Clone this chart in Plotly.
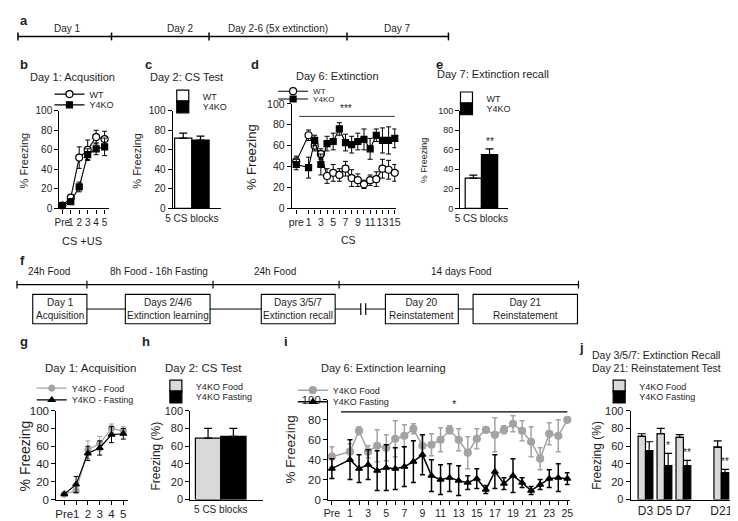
import plotly.graph_objects as go

W, H = 738, 521
FONT = "Liberation Sans, Arial, Helvetica, sans-serif"
INK = "#1e1e1e"
GRAY = "#a3a3a3"
LIGHT = "#d9d9d9"


def fx(p):
    return p / W


def fy(p):
    return 1 - p / H


# ---------------- data ----------------
a_phases = ["Day 1", "Day 2", "Day 2-6 (5x extinction)", "Day 7"]
f_phases = ["24h Food", "8h Food - 16h Fasting", "24h Food", "14 days Food"]
f_steps = ["Day 1<br>Acquisition", "Days 2/4/6<br>Extinction learning",
           "Days 3/5/7<br>Extinction recall", "Day 20<br>Reinstatement",
           "Day 21<br>Reinstatement"]

acq_ticks = ["Pre", "1", "2", "3", "4", "5"]
b_wt = [3, 11, 52, 60, 73, 71]
b_wt_err = [1, 3, 11, 10, 7, 8]
b_ko = [3, 7, 22, 55, 61, 63]
b_ko_err = [1, 2, 5, 6, 6, 9]

block_label = ["5 CS blocks"]
c_wt = [72]
c_wt_err = [5]
c_ko = [70]
c_ko_err = [4]

d_ticks = ["pre", "1", "2", "3", "4", "5", "6", "7", "8", "9", "10", "11", "12", "13", "14", "15"]
d_wt = [45, 70, 60, 52, 31, 34, 32, 38, 29, 27, 23, 27, 28, 38, 37, 34]
d_wt_err = [5, 5, 5, 5, 7, 8, 6, 7, 8, 6, 4, 5, 7, 9, 9, 8]
d_ko = [42, 39, 65, 42, 62, 64, 76, 63, 61, 64, 66, 57, 70, 65, 65, 67]
d_ko_err = [5, 10, 5, 10, 7, 8, 6, 8, 8, 8, 10, 10, 6, 12, 13, 9]

e_wt = [31]
e_wt_err = [3]
e_ko = [55]
e_ko_err = [6]
e_sig = "**"

g_food = [6, 10, 56, 63, 80, 77]
g_food_err = [1, 3, 10, 8, 5, 5]
g_fast = [6, 17, 52, 58, 73, 74]
g_fast_err = [1, 9, 8, 8, 9, 6]

h_food = [69]
h_food_err = [11]
h_fast = [71]
h_fast_err = [9]

i_ticks = ["Pre"] + [str(k) for k in range(1, 26)]
i_food = [43, 48, 69, 48, 54, 52, 61, 64, 71, 54, 55, 60, 70, 60, 47, 61, 70, 65, 70, 76, 69, 58, 41, 66, 64, 80]
i_food_err = [10, 8, 4, 6, 16, 13, 18, 11, 5, 11, 11, 12, 4, 11, 16, 10, 3, 17, 4, 8, 10, 15, 11, 11, 16, 0]
i_fast = [31, 40, 31, 35, 29, 32, 31, 33, 38, 45, 24, 20, 22, 19, 17, 21, 10, 28, 16, 24, 17, 9, 15, 21, 22, 21]
i_fast_err = [10, 20, 14, 15, 20, 23, 21, 20, 21, 20, 16, 15, 14, 15, 7, 10, 4, 17, 6, 17, 5, 4, 5, 9, 14, 6]
i_sig = "*"

j_days = ["D3", "D5", "D7", "D21"]
j_food = [71, 74, 70, 59]
j_food_err = [3, 6, 3, 7]
j_fast = [55, 38, 38, 30]
j_fast_err = [10, 14, 6, 4]
j_sig = ["", "*", "**", "**"]

# ---------------- helpers ----------------
BW = 0.39  # width of one bar in a pair


def series_x(ticks):
    # "pre" sits one extra step before trial 1
    return [-1 if k == 0 else k for k in range(len(ticks))]


def odd_labels(ticks):
    return [t if (k == 0 or int(t) % 2 == 1) else "" for k, t in enumerate(ticks)]


def line_trace(x, y, err, name, xa, ya, lg, color, symbol, fill, msize, lw, ew=1.0):
    return go.Scatter(
        x=x, y=y, name=name, xaxis=xa, yaxis=ya, legend=lg, mode="lines+markers",
        line=dict(color=color, width=lw),
        marker=dict(symbol=symbol, size=msize, color=fill, line=dict(color=color, width=1.2)),
        error_y=dict(type="data", array=err, visible=True, color=color, thickness=ew, width=2.5),
        cliponaxis=False,
    )


def bar_trace(x, y, err, name, xa, ya, lg, fill, offset):
    return go.Bar(
        x=x, y=y, name=name, xaxis=xa, yaxis=ya, legend=lg, width=BW, offset=offset,
        marker=dict(color=fill, line=dict(color="black", width=1.2)),
        error_y=dict(type="data", array=err, arrayminus=[0] * len(err), symmetric=False,
                     visible=True, color="black", thickness=1.2, width=4),
        cliponaxis=False,
    )


fig = go.Figure()

acq_x = list(range(len(acq_ticks)))
# b
fig.add_trace(line_trace(acq_x, b_wt, b_wt_err, "WT", "x", "y", "legend",
                         "black", "circle", "white", 7, 1.1))
fig.add_trace(line_trace(acq_x, b_ko, b_ko_err, "Y4KO", "x", "y", "legend2",
                         "black", "square", "black", 6, 1.1))
# c
fig.add_trace(bar_trace([0], c_wt, c_wt_err, "WT", "x2", "y2", "legend3", "white", -BW))
fig.add_trace(bar_trace([0], c_ko, c_ko_err, "Y4KO", "x2", "y2", "legend4", "black", 0))
# d
dx = series_x(d_ticks)
fig.add_trace(line_trace(dx, d_wt, d_wt_err, "WT", "x3", "y3", "legend5",
                         "black", "circle", "white", 7, 1.1))
fig.add_trace(line_trace(dx, d_ko, d_ko_err, "Y4KO", "x3", "y3", "legend6",
                         "black", "square", "black", 6, 1.1))
# e
fig.add_trace(bar_trace([0], e_wt, e_wt_err, "WT", "x4", "y4", "legend7", "white", -BW))
fig.add_trace(bar_trace([0], e_ko, e_ko_err, "Y4KO", "x4", "y4", "legend8", "black", 0))
# g
fig.add_trace(line_trace(acq_x, g_food, g_food_err, "Y4KO - Food", "x5", "y5",
                         "legend9", GRAY, "circle", GRAY, 6, 1.2))
fig.add_trace(line_trace(acq_x, g_fast, g_fast_err, "Y4KO - Fasting", "x5", "y5",
                         "legend10", "black", "triangle-up", "black", 6, 1.2))
# h
fig.add_trace(bar_trace([0], h_food, h_food_err, "Y4KO Food", "x6", "y6", "legend11", LIGHT, -BW))
fig.add_trace(bar_trace([0], h_fast, h_fast_err, "Y4KO Fasting", "x6", "y6", "legend12", "black", 0))
# i
ix = series_x(i_ticks)
fig.add_trace(line_trace(ix, i_food, i_food_err, "Y4KO Food", "x7", "y7", "legend13",
                         GRAY, "circle", GRAY, 7, 1.5, ew=1.5))
fig.add_trace(line_trace(ix, i_fast, i_fast_err, "Y4KO Fasting", "x7", "y7", "legend14",
                         "black", "triangle-up", "black", 6, 1.5, ew=1.5))
# j  (one empty slot before the last day)
jx = [k if k < 3 else k + 1 for k in range(len(j_days))]
fig.add_trace(bar_trace(jx, j_food, j_food_err, "Y4KO Food", "x8", "y8", "legend15", LIGHT, -BW))
fig.add_trace(bar_trace(jx, j_fast, j_fast_err, "Y4KO Fasting", "x8", "y8", "legend16", "black", 0))


# ---------------- axes ----------------
def xax(px0, px1, anchor, rng, tickvals, ticktext, size, ticks="outside"):
    return dict(domain=[fx(px0), fx(px1)], anchor=anchor, range=rng, showline=True,
                linecolor="black", linewidth=1.2, ticks=ticks, ticklen=4, tickwidth=1.2,
                tickcolor="black", showgrid=False, zeroline=False, tickmode="array",
                tickvals=tickvals, ticktext=ticktext, tickangle=0,
                tickfont=dict(size=size, color=INK, family=FONT), fixedrange=True)


def yax(top, bottom, anchor, size):
    return dict(domain=[fy(bottom), fy(top)], anchor=anchor, range=[0, 100], showline=True,
                linecolor="black", linewidth=1.2, ticks="outside", ticklen=4, tickwidth=1.2,
                tickcolor="black", showgrid=False, zeroline=False, tickmode="array",
                tickvals=[0, 20, 40, 60, 80, 100], tickangle=0,
                tickfont=dict(size=size, color=INK, family=FONT), fixedrange=True)


layout_axes = dict(
    xaxis=xax(45, 95, "y", [-0.35, 5.47], acq_x, acq_ticks, 10),
    yaxis=yax(99, 199, "x", 10),
    xaxis2=xax(160, 209, "y2", [-0.435, 0.656], [0], block_label, 10, ticks=""),
    yaxis2=yax(99, 199, "x2", 10),
    xaxis3=xax(281, 387, "y3", [-1.72, 15.24], dx, odd_labels(d_ticks), 10.5),
    yaxis3=yax(92, 199, "x3", 10.5),
    xaxis4=xax(452, 500, "y4", [-0.508, 0.627], [0], block_label, 10, ticks=""),
    yaxis4=yax(99, 199, "x4", 9),
    xaxis5=xax(42, 115, "y5", [-0.67, 5.42], acq_x, acq_ticks, 11.5),
    yaxis5=yax(406, 497, "x5", 11.5),
    xaxis6=xax(178, 252, "y6", [-0.468, 0.655], [0], block_label, 10, ticks=""),
    yaxis6=yax(406, 497, "x6", 11),
    xaxis7=xax(318, 563, "y7", [-1.4, 25.25], ix, odd_labels(i_ticks), 10.5),
    yaxis7=yax(395, 497, "x7", 11.5),
    xaxis8=xax(625, 728, "y8", [-0.78, 4.57], jx, j_days, 12, ticks=""),
    yaxis8=yax(406, 497, "x8", 11),
)

# ---------------- legends (symbol centre = left+20, text = left+40) ----------------
legend_specs = [
    ("legend", 35, 82, 9), ("legend2", 35, 93, 9),
    ("legend3", 150, 84, 9), ("legend4", 150, 95, 9),
    ("legend5", 262, 79, 8), ("legend6", 262, 87, 8),
    ("legend7", 438, 86, 9), ("legend8", 438, 97, 9),
    ("legend9", 17, 383, 9), ("legend10", 17, 395, 9),
    ("legend11", 143, 381, 9), ("legend12", 143, 392, 9),
    ("legend13", 282, 385, 9), ("legend14", 282, 397, 9),
    ("legend15", 593, 381, 9), ("legend16", 593, 392, 9),
]
legends = {}
for key, lx, ly, fs in legend_specs:
    legends[key] = dict(x=fx(lx), y=fy(ly), xanchor="left", yanchor="middle",
                        bgcolor="rgba(0,0,0,0)", borderwidth=0, itemwidth=30,
                        font=dict(size=fs, family=FONT, color=INK), tracegroupgap=0)

# ---------------- annotations ----------------
ann = []


def txt(x, y, s, size=11, xanchor="center", angle=0, bold=False, ref=None):
    d = dict(text=("<b>%s</b>" % s) if bold else s, showarrow=False, textangle=angle,
             font=dict(size=size, family=FONT, color=INK), xanchor=xanchor, yanchor="middle")
    if ref is None:
        d.update(x=fx(x), y=fy(y), xref="paper", yref="paper")
    else:
        d.update(x=x, y=y, xref=ref[0], yref=ref[1], yanchor="bottom")
    ann.append(d)


# panel letters
for letter, lx, ly in [("a", 3, 7), ("b", 3, 52), ("c", 130, 52), ("d", 238, 52), ("e", 425, 52),
                       ("f", 3, 252), ("g", 3, 335), ("h", 127, 335), ("i", 271, 335), ("j", 571, 341)]:
    txt(lx, ly, letter, size=13, xanchor="left", bold=True)

# titles
txt(58, 64, "Day 1: Acqusition", 11)
txt(174, 64, "Day 2: CS Test", 11)
txt(327, 63, "Day 6: Extinction", 11)
txt(485, 61, "Day 7: Extinction recall", 11)
txt(77, 362, "Day 1: Acquisition", 11.5)
txt(191, 362, "Day 2: CS Test", 11.5)
txt(374, 362, "Day 6: Extinction learning", 11)
txt(584, 349, "Day 3/5/7: Extinction Recall", 10.5, xanchor="left")
txt(584, 362, "Day 21: Reinstatement Test", 10.5, xanchor="left")

# axis titles
txt(9, 150, "% Freezing", 11, angle=-90)
txt(123, 150, "% Freezing", 11, angle=-90)
txt(240, 146, "% Freezing", 13, angle=-90)
txt(415, 150, "% Freezing", 9, angle=-90)
txt(10, 452, "% Freezing", 14, angle=-90)
txt(143, 452, "Freezing (%)", 12, angle=-90)
txt(280, 446, "% Freezing", 13.5, angle=-90)
txt(590, 452, "Freezing (%)", 12, angle=-90)
txt(68, 232, "CS +US", 11)
txt(339, 231, "CS", 10.5)

# timeline labels
for s, cx in zip(a_phases, [53, 168, 267, 388]):
    txt(cx, 15, s, 10)
for s, cx in zip(f_phases, [35, 146, 264, 453]):
    txt(cx, 264, s, 10)
f_boxes = [(18, 73), (112, 198), (250, 325), (376, 450), (465, 571)]
for s, (b0, b1) in zip(f_steps, f_boxes):
    txt((b0 + b1) / 2, 302, s, 10)

# significance marks
txt(7, 88, "***", 10, ref=("x3", "y3"))
txt(12.5, 88, i_sig, 11, ref=("x7", "y7"))
txt(BW / 2, e_ko[0] + e_ko_err[0], e_sig, 10, ref=("x4", "y4"))
for xv, v, e, s in zip(jx, j_fast, j_fast_err, j_sig):
    if s:
        txt(xv + BW / 2, v + e, s, 10, ref=("x8", "y8"))

# ---------------- shapes ----------------
shapes = []


def seg(x0, y0, x1, y1, w=1.0):
    shapes.append(dict(type="line", xref="paper", yref="paper", x0=fx(x0), y0=fy(y0),
                       x1=fx(x1), y1=fy(y1), line=dict(color="black", width=w)))


seg(3, 23, 440, 23, 1.5)
for t in [3, 98, 197, 337, 440]:
    seg(t, 19, t, 27, 1.5)
seg(2, 277, 572, 277, 1.2)
for t in [2, 73, 201, 329, 572]:
    seg(t, 273, t, 281, 1.2)
for b0, b1 in f_boxes:
    shapes.append(dict(type="rect", xref="paper", yref="paper", x0=fx(b0), x1=fx(b1),
                       y0=fy(317), y1=fy(287), line=dict(color="black", width=1.1)))
seg(73, 302, 112, 302)
seg(198, 302, 250, 302)
seg(325, 302, 351, 302)
seg(356, 302, 376, 302)
seg(450, 302, 465, 302)
seg(351, 296, 351, 308, 1.2)
seg(356, 296, 356, 308, 1.2)

# significance bars
shapes.append(dict(type="line", xref="x3", yref="y3", x0=-0.5, x1=15, y0=88, y1=88,
                   line=dict(color="black", width=0.8)))
shapes.append(dict(type="line", xref="x7", yref="y7", x0=0, x1=25, y0=88, y1=88,
                   line=dict(color="black", width=1.2)))

fig.update_layout(
    width=W, height=H, margin=dict(l=0, r=0, t=0, b=0),
    paper_bgcolor="white", plot_bgcolor="white", barmode="overlay",
    font=dict(family=FONT, color=INK), showlegend=True,
    annotations=ann, shapes=shapes, **layout_axes, **legends,
)

fig.write_html("out.html")
